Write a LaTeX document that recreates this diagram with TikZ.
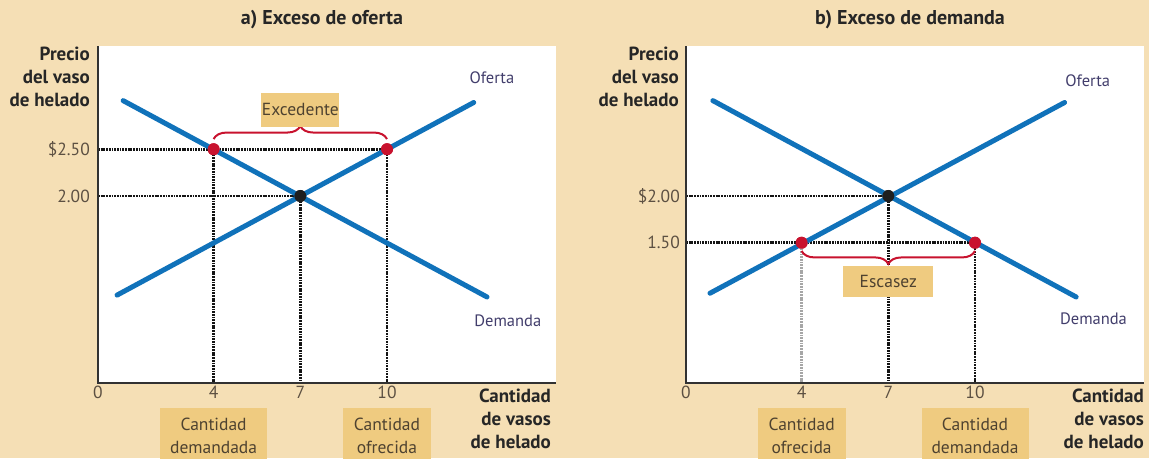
\documentclass[tikz,border=0pt]{standalone}
\usepackage{fontspec}
\setmainfont{PT Sans}
\usetikzlibrary{positioning,decorations.pathreplacing}

\definecolor{pagebg}{RGB}{245,223,181}
\definecolor{tagfill}{RGB}{239,203,128}
\definecolor{curveblue}{RGB}{16,114,186}
\definecolor{dotred}{RGB}{200,18,46}
\definecolor{labnavy}{RGB}{66,62,108}
\definecolor{tickbrown}{RGB}{92,80,66}
\definecolor{tagtext}{RGB}{78,66,48}
\definecolor{axisgray}{RGB}{50,50,50}

\tikzset{
  curve/.style={draw=curveblue, line width=5pt, line cap=round},
  guide/.style={draw=black!92, line width=2.6pt, dash pattern=on 1.8pt off 0.9pt},
  guidelight/.style={draw=black!35, line width=2.6pt, dash pattern=on 1.8pt off 0.9pt},
  axisline/.style={draw=axisgray, line width=1.6pt},
  reddot/.style={circle, fill=dotred, inner sep=0pt, minimum size=12pt},
  eqdot/.style={circle, fill=black!88, inner sep=0pt, minimum size=12pt},
  bracered/.style={draw=dotred, line width=2pt, decorate},
  tagbox/.style={fill=tagfill, text=tagtext, align=center, inner sep=0pt,
    font=\fontsize{17.5}{23}\selectfont},
  ticklab/.style={text=tickbrown, inner sep=0pt, font=\fontsize{17.5}{20}\selectfont},
  curvelab/.style={text=labnavy, inner sep=0pt, font=\fontsize{16.5}{19}\selectfont},
  axislab/.style={text=black!85, align=right, inner sep=0pt,
    font=\fontsize{19}{23}\selectfont\bfseries},
  paneltitle/.style={text=black!85, inner sep=0pt, font=\fontsize{20}{22}\selectfont\bfseries}
}

\begin{document}
\begin{tikzpicture}[x=1pt,y=1pt]

\fill[pagebg] (0,0) rectangle (1149,458);
\useasboundingbox (0,0) rectangle (1149,458);

\node[paneltitle] (atitle) at (322,438) {a) Exceso de oferta};
\node[paneltitle] (btitle) at (910,438) {b) Exceso de demanda};

% panel a
\begin{scope}[shift={(98pt,75pt)},x=28.9pt,y=93.5pt]
\coordinate (aO) at (0,0);
\coordinate (aTop) at (0,3.604);
\coordinate (aEnd) at (15.85,0);
\fill[white] (aO) rectangle (15.85,3.604);

\coordinate (aP25) at (0,2.5);
\coordinate (aP20) at (0,2);
\coordinate (aQ4) at (4,0);
\coordinate (aQ7) at (7,0);
\coordinate (aQ10) at (10,0);

\node[reddot] (aL) at (4,2.5) {};
\node[reddot] (aR) at (10,2.5) {};
\node[eqdot] (aE) at (7,2) {};

\draw[guide] (aP25) -- (aR.center);
\draw[guide] (aP20) -- (aE.center);
\draw[guide] (aL.center) -- (aQ4);
\draw[guide] (aE.center) -- (aQ7);
\draw[guide] (aR.center) -- (aQ10);

\coordinate (aD1) at (0.87,3.02);
\coordinate (aD2) at (13.46,0.92);
\coordinate (aS1) at (0.66,0.94);
\coordinate (aS2) at (13.0,3.0);
\draw[curve] (aD1) -- (aD2);
\draw[curve] (aS1) -- (aS2);

\node[reddot] at (aL) {};
\node[reddot] at (aR) {};
\node[eqdot] at (aE) {};

\draw[axisline] (aTop) -- (aO) -- (aEnd);

\draw[bracered, decoration={brace, amplitude=13pt}]
  ([yshift=4pt]aL.north) -- ([yshift=4pt]aR.north);
\node[tagbox, minimum width=78pt, minimum height=34pt] (aExc) at (7,2.92) {Excedente};

\node[curvelab] (aSlab) at (13.63,3.26) {Oferta};
\node[curvelab] (aDlab) at (14.18,0.67) {Demanda};

\node[ticklab, anchor=east] (a250) at ([xshift=-8pt]aP25) {\$2.50};
\node[ticklab, anchor=east] (a200) at ([xshift=-8pt]aP20) {2.00};
\node[ticklab] (a0) at (0,-0.1) {0};
\node[ticklab] (a4) at (4,-0.1) {4};
\node[ticklab] (a7) at (7,-0.1) {7};
\node[ticklab] (a10) at (10,-0.1) {10};

\node[tagbox, anchor=north, minimum width=107pt, minimum height=56pt]
  (aQd) at (4,-0.267) {Cantidad\\demandada};
\node[tagbox, anchor=north, minimum width=88pt, minimum height=56pt]
  (aQs) at (10,-0.267) {Cantidad\\ofrecida};

\node[axislab, anchor=north east] (aYlab) at ([xshift=-8pt,yshift=-1pt]aTop) {Precio\\del vaso\\de helado};
\node[axislab, anchor=north east] (aXlab) at ([xshift=-5pt,yshift=-6pt]aEnd) {Cantidad\\de vasos\\de helado};
\end{scope}

% panel b
\begin{scope}[shift={(686pt,75pt)},x=28.9pt,y=93.5pt]
\coordinate (bO) at (0,0);
\coordinate (bTop) at (0,3.604);
\coordinate (bEnd) at (15.85,0);
\fill[white] (bO) rectangle (15.85,3.604);

\coordinate (bP20) at (0,2);
\coordinate (bP15) at (0,1.5);
\coordinate (bQ4) at (4,0);
\coordinate (bQ7) at (7,0);
\coordinate (bQ10) at (10,0);

\node[reddot] (bL) at (4,1.5) {};
\node[reddot] (bR) at (10,1.5) {};
\node[eqdot] (bE) at (7,2) {};

\draw[guide] (bP20) -- (bE.center);
\draw[guide] (bP15) -- (bR.center);
\draw[guidelight] (bL.center) -- (bQ4);
\draw[guide] (bE.center) -- (bQ7);
\draw[guide] (bR.center) -- (bQ10);

\coordinate (bD1) at (0.93,3.02);
\coordinate (bD2) at (13.5,0.92);
\coordinate (bS1) at (0.83,0.96);
\coordinate (bS2) at (13.1,3.0);
\draw[curve] (bD1) -- (bD2);
\draw[curve] (bS1) -- (bS2);

\node[reddot] at (bL) {};
\node[reddot] at (bR) {};
\node[eqdot] at (bE) {};

\draw[axisline] (bTop) -- (bO) -- (bEnd);

\draw[bracered, decoration={brace, amplitude=13pt}]
  ([yshift=-2pt]bR.south) -- ([yshift=-2pt]bL.south);
\node[tagbox, minimum width=90pt, minimum height=31pt] (bEsc) at (7,1.09) {Escasez};

\node[curvelab] (bSlab) at (13.9,3.23) {Oferta};
\node[curvelab] (bDlab) at (14.1,0.69) {Demanda};

\node[ticklab, anchor=east] (b200) at ([xshift=-6pt]bP20) {\$2.00};
\node[ticklab, anchor=east] (b150) at ([xshift=-6pt]bP15) {1.50};
\node[ticklab] (b0) at (0,-0.1) {0};
\node[ticklab] (b4) at (4,-0.1) {4};
\node[ticklab] (b7) at (7,-0.1) {7};
\node[ticklab] (b10) at (10,-0.1) {10};

\node[tagbox, anchor=north, minimum width=88pt, minimum height=56pt]
  (bQs) at (4,-0.267) {Cantidad\\ofrecida};
\node[tagbox, anchor=north, minimum width=107pt, minimum height=56pt]
  (bQd) at (10,-0.267) {Cantidad\\demandada};

\node[axislab, anchor=north east] (bYlab) at ([xshift=-7pt,yshift=-1pt]bTop) {Precio\\del vaso\\de helado};
\node[axislab, anchor=north east] (bXlab) at ([xshift=0pt,yshift=-6pt]bEnd) {Cantidad\\de vasos\\de helado};
\end{scope}

\end{tikzpicture}
\end{document}
